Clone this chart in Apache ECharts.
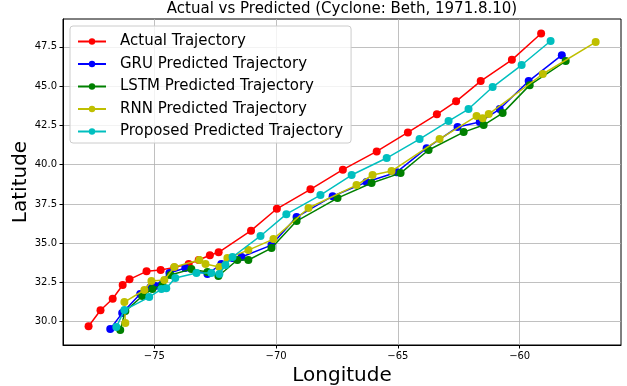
<!DOCTYPE html>
<html>
<head>
<meta charset="utf-8">
<script src="https://cdn.jsdelivr.net/npm/echarts@6/dist/echarts.min.js"></script>
<style>html,body{margin:0;padding:0;background:#fff}#c{width:627px;height:386px}</style>
</head>
<body>
<div id="c"></div>
<script>
var seriesNames = ['Actual Trajectory','GRU Predicted Trajectory','LSTM Predicted Trajectory','RNN Predicted Trajectory','Proposed Predicted Trajectory'];
var actualLon = [-77.70,-77.21,-76.71,-76.30,-76.02,-75.32,-74.74,-74.18,-73.59,-73.18,-72.72,-72.36,-71.03,-69.97,-68.59,-67.26,-65.87,-64.59,-63.40,-62.61,-61.60,-60.32,-59.12];
var actualLat = [29.71,30.73,31.46,32.34,32.70,33.21,33.29,33.46,33.67,33.93,34.23,34.42,35.80,37.19,38.43,39.68,40.84,42.05,43.20,44.03,45.32,46.67,48.35];
var gruLon = [-76.81,-76.32,-75.58,-75.16,-74.96,-74.38,-73.73,-72.82,-72.25,-71.79,-71.42,-70.19,-69.16,-67.68,-66.29,-65.05,-63.82,-62.55,-61.64,-60.82,-59.63,-58.27];
var gruLat = [29.54,30.55,31.76,32.20,32.27,33.10,33.42,33.04,33.67,34.05,34.12,34.88,36.66,37.99,38.89,39.52,41.05,42.39,42.71,43.54,45.32,46.97];
var lstmLon = [-76.40,-76.19,-75.49,-75.08,-74.67,-74.34,-73.48,-72.82,-72.37,-71.59,-71.14,-70.19,-69.16,-67.48,-66.08,-64.89,-63.74,-62.30,-61.48,-60.70,-59.59,-58.11];
var lstmLat = [29.47,30.68,31.64,32.08,32.33,32.97,33.35,33.16,32.91,33.93,33.93,34.69,36.41,37.87,38.83,39.46,40.93,42.07,42.52,43.28,45.06,46.59];
var rnnLon = [-76.19,-76.23,-75.41,-75.12,-74.59,-74.18,-73.15,-72.90,-72.33,-72.00,-71.14,-70.11,-68.67,-66.70,-66.04,-65.26,-63.29,-61.77,-61.52,-61.27,-59.05,-56.88];
var rnnLat = [29.92,31.25,32.02,32.59,32.65,33.48,33.93,33.67,33.48,34.05,34.56,35.26,37.24,38.70,39.34,39.59,41.63,43.09,42.96,43.22,45.77,47.80];
var propLon = [-76.56,-76.23,-75.21,-74.71,-74.51,-74.14,-73.27,-72.66,-72.33,-72.08,-71.79,-70.64,-69.58,-68.18,-66.90,-65.46,-64.11,-62.92,-62.10,-61.11,-59.92,-58.73];
var propLat = [29.66,30.74,31.57,32.08,32.14,32.78,33.10,33.10,33.04,33.61,34.12,35.46,36.85,38.06,39.34,40.42,41.63,42.77,43.54,44.94,46.34,47.87];
var xTicks = [-75,-70,-65,-60];
var yTicks = [30,32.5,35,37.5,40,42.5,45,47.5];

var colors = ['#ff0000','#0000ff','#008000','#bfbf00','#00bfbf'];
function pairs(a,b){return a.map(function(v,i){return [v,b[i]];});}
var allData = [pairs(actualLon,actualLat),pairs(gruLon,gruLat),pairs(lstmLon,lstmLat),pairs(rnnLon,rnnLat),pairs(propLon,propLat)];
var font = 'DejaVu Sans';
var chart = echarts.init(document.getElementById('c'));
chart.setOption({
  animation:false,
  backgroundColor:'#fff',
  textStyle:{fontFamily:font},
  title:{text:'Actual vs Predicted (Cyclone: Beth, 1971.8.10)',left:342,top:2,padding:[0,0,0,0],textAlign:'center',
    textStyle:{fontFamily:font,fontSize:15,fontWeight:'normal',color:'#000'}},
  grid:{left:63,right:6,top:19,bottom:41,show:true,borderColor:'#000',borderWidth:1,backgroundColor:'transparent',outerBoundsMode:'none',containLabel:false},
  legend:{orient:'vertical',left:70,top:26,data:seriesNames,itemWidth:28,itemHeight:8,itemGap:7.5,
    padding:[8,8,4,7],backgroundColor:'rgba(255,255,255,0.8)',borderColor:'#cccccc',borderWidth:1,borderRadius:3,
    textStyle:{fontFamily:font,fontSize:15,color:'#000',padding:[0,0,0,9]}},
  xAxis:{type:'value',min:-78.75,max:-55.84,name:'Longitude',nameLocation:'middle',nameGap:18,
    nameTextStyle:{fontFamily:font,fontSize:20,color:'#000'},
    axisLine:{show:true,onZero:false,lineStyle:{color:'#000',width:1}},
    axisTick:{show:true,length:3.5,customValues:xTicks,lineStyle:{color:'#000',width:1}},
    axisLabel:{customValues:xTicks,margin:6,fontFamily:font,fontSize:10,color:'#000',
      formatter:function(v){return String(v).replace('-','\u2212');}},
    splitLine:{show:true,lineStyle:{color:'#b0b0b0',width:0.8}}},
  yAxis:{type:'value',min:28.52,max:49.27,name:'Latitude',nameLocation:'middle',nameGap:32,nameMoveOverlap:false,
    nameTextStyle:{fontFamily:font,fontSize:20,color:'#000'},
    axisLine:{show:true,onZero:false,lineStyle:{color:'#000',width:1}},
    axisTick:{show:true,length:3.5,customValues:yTicks,lineStyle:{color:'#000',width:1}},
    axisLabel:{customValues:yTicks,margin:6,fontFamily:font,fontSize:10,color:'#000',
      formatter:function(v){return v.toFixed(1);}},
    splitLine:{show:true,lineStyle:{color:'#b0b0b0',width:0.8}}},
  series:seriesNames.map(function(n,i){
    return {name:n,type:'line',data:allData[i],symbol:'circle',symbolSize:8,showSymbol:true,
      lineStyle:{color:colors[i],width:1.5},itemStyle:{color:colors[i]},emphasis:{disabled:true},z:2+i};
  })
});
</script>
</body>
</html>
